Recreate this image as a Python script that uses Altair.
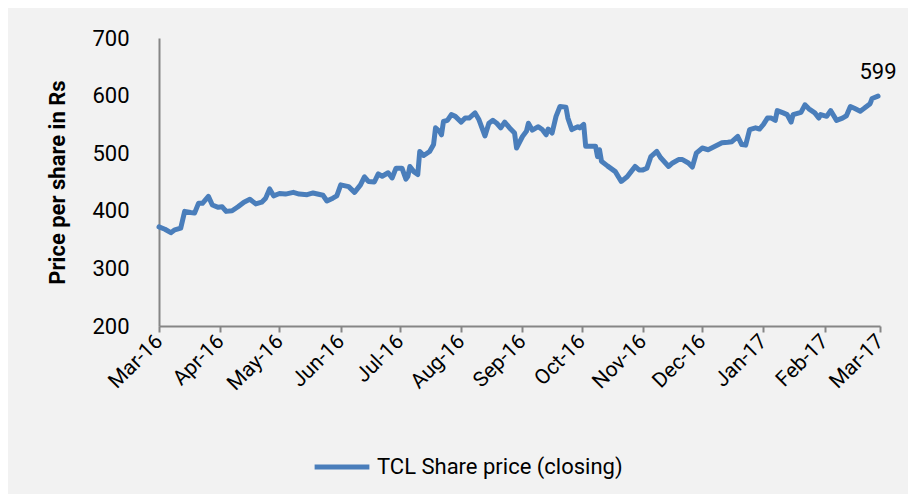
import altair as alt
import pandas as pd

# Days elapsed since 1 Mar 2016 for each closing price
day_offsets = [0, 3, 6, 8, 11, 13, 16, 18, 20, 22, 25, 27, 30, 32, 34, 37, 40, 43, 46, 49,
               52, 54, 56, 58, 61, 64, 68, 71, 75, 78, 83, 85, 88, 90, 92, 96, 99, 102, 104, 106,
               109, 111, 113, 116, 118, 120, 123, 125, 126, 127, 129, 131, 132, 134, 137, 139, 140, 142, 143, 144,
               146, 148, 150, 153, 155, 157, 160, 162, 165, 167, 169, 171, 173, 175, 178, 180, 181, 184, 186, 187,
               189, 192, 194, 196, 197, 199, 201, 203, 206, 207, 209, 212, 213, 215, 216, 218, 221, 222, 223, 224,
               227, 231, 234, 237, 239, 241, 243, 245, 247, 249, 250, 252, 254, 258, 260, 263, 265, 268, 270, 272,
               275, 278, 281, 285, 288, 290, 293, 295, 297, 299, 302, 304, 306, 308, 310, 312, 313, 316, 318, 320,
               321, 325, 327, 329, 332, 334, 335, 338, 340, 343, 346, 348, 350, 352, 355, 357, 360, 361, 364]
prices = [372, 368, 362, 367, 370, 399, 397, 396, 413, 413, 425, 410, 406, 407, 399, 400, 407, 415, 420, 412,
          415, 422, 438, 426, 430, 429, 432, 429, 428, 431, 427, 417, 422, 426, 445, 442, 432, 445, 459, 451,
          450, 464, 460, 466, 457, 474, 474, 455, 460, 477, 468, 463, 503, 496, 503, 515, 544, 538, 532, 555,
          557, 567, 564, 554, 561, 561, 570, 558, 530, 552, 557, 552, 544, 554, 542, 535, 509, 529, 538, 552,
          540, 546, 541, 532, 542, 535, 564, 581, 580, 561, 541, 546, 544, 550, 512, 512, 512, 494, 506, 486,
          478, 468, 451, 459, 468, 477, 471, 471, 474, 494, 497, 503, 492, 477, 483, 489, 489, 483, 476, 500,
          509, 506, 511, 518, 519, 520, 529, 515, 514, 541, 544, 542, 550, 561, 561, 557, 574, 570, 567, 554,
          567, 571, 584, 577, 570, 561, 567, 564, 574, 557, 561, 565, 581, 578, 573, 578, 586, 595, 599]
series_name = "TCL Share price (closing)"
month_ticks = ["2016-03-01", "2016-04-01", "2016-05-01", "2016-06-01", "2016-07-01", "2016-08-01",
               "2016-09-01", "2016-10-01", "2016-11-01", "2016-12-01", "2017-01-01", "2017-02-01",
               "2017-03-01"]
y_ticks = [200, 300, 400, 500, 600, 700]

dates = pd.Timestamp("2016-03-01") + pd.to_timedelta(day_offsets, unit="D")
df = pd.DataFrame({"date": dates.strftime("%Y-%m-%d"), "price": prices, "series": series_name})
last = df.tail(1)

FONT = "Roboto, sans-serif"
BLUE = "#4A7EBB"

x_enc = alt.X("date:T",
              scale=alt.Scale(domain=[month_ticks[0], month_ticks[-1]]),
              axis=alt.Axis(values=month_ticks, format="%b-%y", labelAngle=-45,
                            labelAlign="right", labelBaseline="middle", labelOverlap=False,
                            labelPadding=6, tickSize=6, grid=False, title=None,
                            labelFontSize=21, labelFont=FONT, labelColor="#000000",
                            domainColor="#868686", tickColor="#868686",
                            domainWidth=2, tickWidth=2))
y_enc = alt.Y("price:Q",
              scale=alt.Scale(domain=[200, 700], nice=False, zero=False),
              axis=alt.Axis(values=y_ticks, grid=False, ticks=False, labelPadding=30,
                            title="Price per share in Rs", titleFontSize=22, titleFont=FONT,
                            titleFontWeight="bold", titleColor="#000000",
                            titleX=-90, titleY=144, titleAngle=-90, titleBaseline="bottom",
                            labelFontSize=22, labelFont=FONT, labelColor="#000000",
                            domainColor="#868686", domainWidth=2))

line = alt.Chart(df).mark_line(strokeWidth=5, strokeCap="round", strokeJoin="round").encode(
    x=x_enc, y=y_enc,
    color=alt.Color("series:N", scale=alt.Scale(range=[BLUE]),
                    legend=alt.Legend(title=None, orient="none", legendX=153, legendY=399,
                                      symbolType="stroke", symbolStrokeWidth=5, symbolSize=3000,
                                      labelFontSize=22, labelFont=FONT, labelColor="#000000",
                                      labelOffset=5, labelLimit=500))
)

label = alt.Chart(last).mark_text(dy=-24, fontSize=22, font=FONT, color="#000000").encode(
    x="date:T", y="price:Q", text=alt.Text("price:Q")
)

chart = alt.layer(line, label).properties(
    width=721, height=288,
    autosize=alt.AutoSizeParams(type="none"),
    padding={"left": 151, "top": 30, "right": 28, "bottom": 168},
    background="#F2F2F2",
).configure_view(stroke=None)

chart.save("out.html", embed_options={"renderer": "svg", "actions": False})
